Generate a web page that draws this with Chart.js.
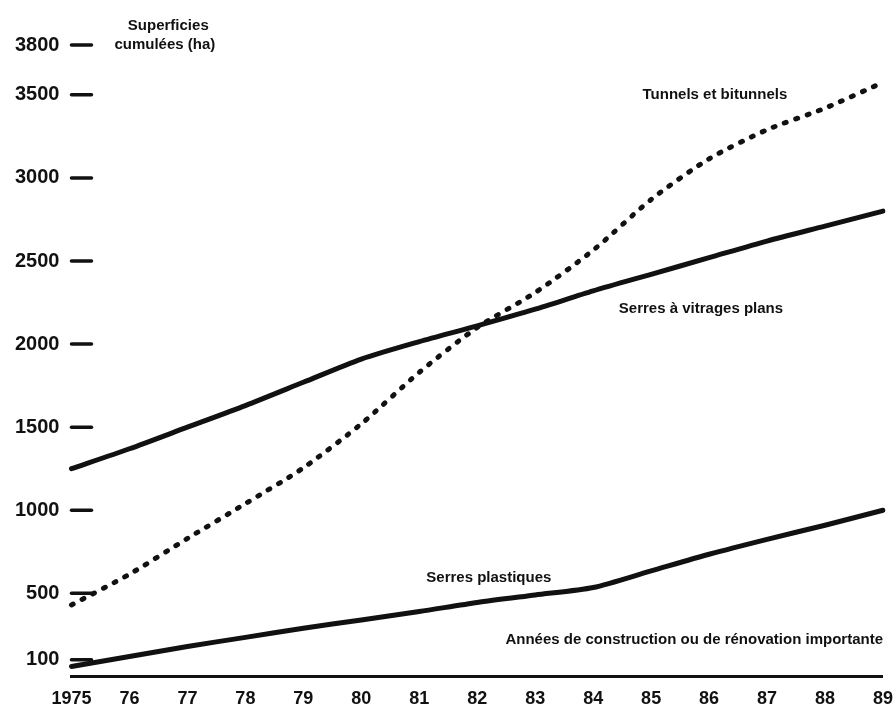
<!DOCTYPE html>
<html lang="fr">
<head>
<meta charset="utf-8">
<title>Superficies cumulées (ha)</title>
<script src="https://cdn.jsdelivr.net/npm/chart.js@4.4.1/dist/chart.umd.min.js"></script>
<style>
  html, body { margin: 0; padding: 0; background: #fff; }
  #wrap { position: relative; width: 896px; height: 710px; }
</style>
</head>
<body>
<div id="wrap"><canvas id="chartSerres"></canvas></div>
<script>
// Années de construction (abscisses)
const years = ["1975", "76", "77", "78", "79", "80", "81", "82", "83", "84", "85", "86", "87", "88", "89"];

// Graduations de l'axe des surfaces
const yTicks = [100, 500, 1000, 1500, 2000, 2500, 3000, 3500, 3800];

// Superficies cumulées (ha)
const tunnels = [430, 615, 830, 1040, 1255, 1520, 1830, 2100, 2310, 2565, 2870, 3115, 3290, 3420, 3575];
const vitrages = [1250, 1370, 1500, 1630, 1770, 1910, 2015, 2110, 2210, 2320, 2420, 2520, 2620, 2710, 2800];
const plastiques = [60, 120, 180, 235, 290, 340, 390, 445, 490, 535, 635, 735, 825, 910, 1000];

const FONT = "'Liberation Sans', Arial, sans-serif";

// Small dashes next to the y tick labels
const tickDashes = {
  id: "tickDashes",
  afterDatasetsDraw(chart) {
    const { ctx, chartArea, scales: { y } } = chart;
    ctx.save();
    ctx.strokeStyle = "#111";
    ctx.lineWidth = 3.5;
    ctx.lineCap = "round";
    y.ticks.forEach(t => {
      const py = y.getPixelForValue(t.value);
      ctx.beginPath();
      ctx.moveTo(chartArea.left, py);
      ctx.lineTo(chartArea.left + 20, py);
      ctx.stroke();
    });
    ctx.restore();
  }
};

// Texts placed in chart coordinates (x = index of year, y = ha)
const annotations = [
  { text: "Superficies", x: 1.67, y: 3915, align: "center" },
  { text: "cumulées (ha)", x: 1.61, y: 3800, align: "center" },
  { text: "Tunnels et bitunnels", x: 11.1, y: 3500, align: "center" },
  { text: "Serres à vitrages plans", x: 10.86, y: 2212, align: "center" },
  { text: "Serres plastiques", x: 7.2, y: 594, align: "center" },
  { text: "Années de construction ou de rénovation importante", x: 14, y: 222, align: "right" }
];

const textLabels = {
  id: "textLabels",
  afterDraw(chart) {
    const { ctx, scales: { x, y } } = chart;
    ctx.save();
    ctx.fillStyle = "#111";
    ctx.font = "bold 15px " + FONT;
    ctx.textBaseline = "middle";
    annotations.forEach(a => {
      ctx.textAlign = a.align;
      ctx.fillText(a.text, x.getPixelForValue(a.x), y.getPixelForValue(a.y));
    });
    ctx.restore();
  }
};

new Chart(document.getElementById("chartSerres"), {
  type: "line",
  data: {
    labels: years,
    datasets: [
      {
        label: "Tunnels et bitunnels",
        data: tunnels,
        borderColor: "#111",
        borderWidth: 5,
        borderDash: [2, 10],
        borderCapStyle: "round",
        tension: 0.25,
        pointRadius: 0,
        fill: false
      },
      {
        label: "Serres à vitrages plans",
        data: vitrages,
        borderColor: "#111",
        borderWidth: 5,
        borderCapStyle: "round",
        tension: 0.25,
        pointRadius: 0,
        fill: false
      },
      {
        label: "Serres plastiques",
        data: plastiques,
        borderColor: "#111",
        borderWidth: 5,
        borderCapStyle: "round",
        tension: 0.25,
        pointRadius: 0,
        fill: false
      }
    ]
  },
  options: {
    responsive: true,
    maintainAspectRatio: false,
    animation: false,
    layout: { padding: { top: 45, right: 0, bottom: -12, left: 3 } },
    plugins: {
      legend: { display: false },
      tooltip: { enabled: false }
    },
    scales: {
      x: {
        offset: false,
        grid: { display: false, drawTicks: false },
        border: { display: true, color: "#111", width: 3 },
        ticks: {
          color: "#111",
          padding: 3,
          maxRotation: 0,
          autoSkip: false,
          font: { family: FONT, size: 18, weight: "bold", lineHeight: 2.2 }
        }
      },
      y: {
        min: 0,
        max: 3800,
        grid: { display: false, drawTicks: false },
        border: { display: false },
        afterBuildTicks: scale => {
          scale.ticks = yTicks.map(v => ({ value: v }));
        },
        ticks: {
          color: "#111",
          padding: 12,
          font: { family: FONT, size: 20, weight: "bold" },
          callback: v => String(v)
        }
      }
    }
  },
  plugins: [tickDashes, textLabels]
});
</script>
</body>
</html>
